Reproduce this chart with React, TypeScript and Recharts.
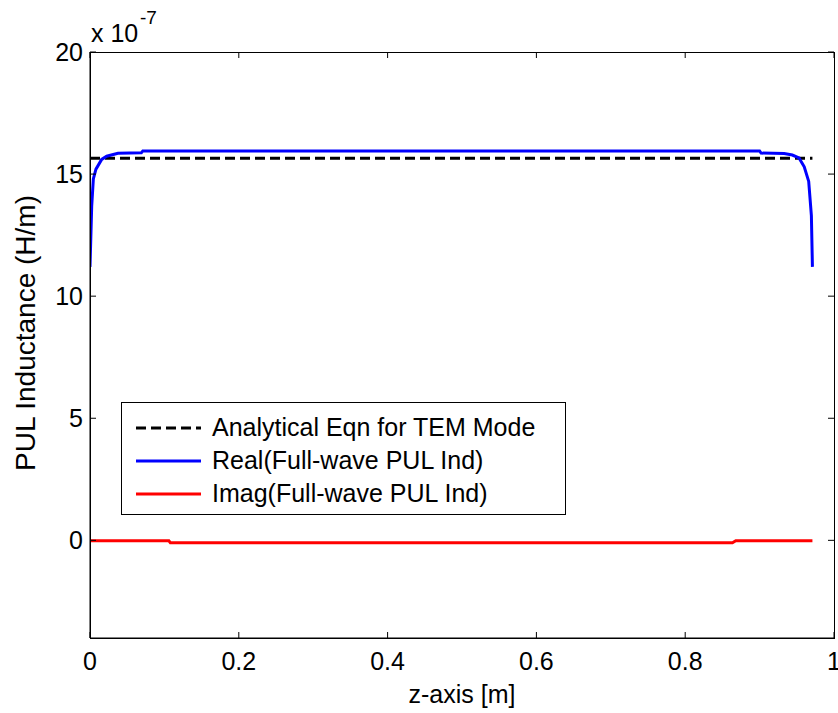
import React from "react";
import { LineChart, Line, XAxis, YAxis, Legend, Label } from "recharts";

// z positions [m] and PUL inductance values (x 1e-7 H/m)
const analyticZ = [0, 0.971];
const analyticL = [15.65, 15.65];

const realZ = [
  0, 0.0023, 0.0045, 0.008, 0.0157, 0.0224, 0.0376, 0.069, 0.071, 0.5, 0.9, 0.902,
  0.933, 0.944, 0.953, 0.96, 0.966, 0.9696, 0.971,
];
const realL = [
  11.2, 13.7, 14.8, 15.2, 15.6, 15.73, 15.85, 15.87, 15.95, 15.95, 15.95, 15.86,
  15.84, 15.78, 15.66, 15.3, 14.7, 13.3, 11.2,
];

const imagZ = [0, 0.106, 0.108, 0.5, 0.8635, 0.868, 0.971];
const imagL = [-0.02, -0.02, -0.1, -0.1, -0.1, -0.02, -0.02];

const xTicks = [0, 0.2, 0.4, 0.6, 0.8, 1];
const yTicks = [0, 5, 10, 15, 20];

const seriesNames = [
  "Analytical Eqn for TEM Mode",
  "Real(Full-wave PUL Ind)",
  "Imag(Full-wave PUL Ind)",
];

const toRows = (zs: number[], vs: number[]) => zs.map((z, i) => ({ z, v: vs[i] }));
const analyticData = toRows(analyticZ, analyticL);
const realData = toRows(realZ, realL);
const imagData = toRows(imagZ, imagL);

const FONT = "'Liberation Sans', Arial, Helvetica, sans-serif";

const W = 838;
const H = 713;
const MARGIN = { top: 52, right: 4, left: 0, bottom: 0 };
const Y_AXIS_W = 90;
const X_AXIS_H = 75;
const PLOT_W = W - MARGIN.left - MARGIN.right - Y_AXIS_W;
const PLOT_H = H - MARGIN.top - MARGIN.bottom - X_AXIS_H;
const TICK = 6;

// MATLAB style: ticks point inward, mirrored on the opposite side of the box
const LeftTick = (p: any) => (
  <g>
    <line x1={p.x} x2={p.x + TICK} y1={p.y} y2={p.y} stroke="#000" />
    <line x1={p.x + PLOT_W} x2={p.x + PLOT_W - TICK} y1={p.y} y2={p.y} stroke="#000" />
    <text x={p.x - 7} y={p.y} dy="0.36em" textAnchor="end" fontSize={25} fontFamily={FONT} fill="#000">
      {p.payload.value}
    </text>
  </g>
);
const BottomTick = (p: any) => (
  <g>
    <line x1={p.x} x2={p.x} y1={p.y} y2={p.y - TICK} stroke="#000" />
    <line x1={p.x} x2={p.x} y1={p.y - PLOT_H} y2={p.y - PLOT_H + TICK} stroke="#000" />
    <text x={p.x} y={p.y + 23} dy="0.36em" textAnchor="middle" fontSize={25} fontFamily={FONT} fill="#000">
      {p.payload.value}
    </text>
  </g>
);

const renderLegend = (props: any) => {
  const items = [...(props.payload || [])]
    .filter((e: any) => seriesNames.includes(e.value))
    .sort((a: any, b: any) => seriesNames.indexOf(a.value) - seriesNames.indexOf(b.value));
  return (
    <div
      style={{
        border: "1px solid #000",
        background: "#fff",
        boxSizing: "border-box",
        width: 445,
        height: 113,
        padding: "8px 0 0 13px",
        fontFamily: FONT,
        fontSize: 25,
        lineHeight: "33px",
      }}
    >
      {items.map((e: any) => (
        <div key={e.value} style={{ display: "flex", alignItems: "center", height: 33 }}>
          <svg width={77} height={10}>
            <line
              x1={1}
              x2={66}
              y1={5}
              y2={5}
              stroke={e.color}
              strokeWidth={3}
              strokeDasharray={e.payload && e.payload.strokeDasharray}
            />
          </svg>
          <span>{e.value}</span>
        </div>
      ))}
    </div>
  );
};

export default function App() {
  return (
    <div
      style={{
        position: "absolute",
        left: 0,
        top: 0,
        width: W,
        height: H,
        overflow: "hidden",
        background: "#fff",
      }}
    >
      <LineChart width={W} height={H} margin={MARGIN}>
        <XAxis
          xAxisId="b"
          type="number"
          dataKey="z"
          domain={[0, 1]}
          ticks={xTicks}
          interval={0}
          height={X_AXIS_H}
          tickSize={0}
          tickMargin={0}
          tickLine={false}
          tick={<BottomTick />}
          axisLine={{ stroke: "#000" }}
          allowDataOverflow
        >
          <Label
            content={(p: any) => (
              <text
                x={p.viewBox.x + p.viewBox.width / 2}
                y={p.viewBox.y + 56}
                dy="0.36em"
                textAnchor="middle"
                fontSize={25}
                fontFamily={FONT}
                fill="#000"
              >
                z-axis [m]
              </text>
            )}
          />
        </XAxis>
        <YAxis
          yAxisId="l"
          type="number"
          domain={[-4, 20]}
          ticks={yTicks}
          interval={0}
          width={Y_AXIS_W}
          tickSize={0}
          tickMargin={0}
          tickLine={false}
          tick={<LeftTick />}
          axisLine={{ stroke: "#000" }}
          allowDataOverflow
        >
          <Label
            content={(p: any) => {
              const vb = p.viewBox;
              const cy = vb.y + vb.height / 2 - 12;
              return (
                <g fontFamily={FONT} fill="#000">
                  <text
                    x={25}
                    y={cy}
                    transform={`rotate(-90 25 ${cy})`}
                    dy="0.36em"
                    textAnchor="middle"
                    fontSize={28}
                  >
                    PUL Inductance (H/m)
                  </text>
                  <text x={91} y={33} dy="0.36em" fontSize={25}>
                    x 10
                  </text>
                  <text x={140} y={17} dy="0.36em" fontSize={19}>
                    -7
                  </text>
                </g>
              );
            }}
          />
        </YAxis>
        <Legend
          layout="horizontal"
          verticalAlign="middle"
          align="center"
          content={renderLegend}
          wrapperStyle={{ left: 121, top: 402, width: 445, height: 113 }}
        />
        <Line
          xAxisId="b"
          yAxisId="l"
          data={analyticData}
          dataKey="v"
          name={seriesNames[0]}
          stroke="#000"
          strokeWidth={3}
          strokeDasharray="10 5"
          dot={false}
          activeDot={false}
          isAnimationActive={false}
        />
        <Line
          xAxisId="b"
          yAxisId="l"
          data={realData}
          dataKey="v"
          name={seriesNames[1]}
          stroke="#0000ff"
          strokeWidth={3}
          dot={false}
          activeDot={false}
          isAnimationActive={false}
        />
        <Line
          xAxisId="b"
          yAxisId="l"
          data={imagData}
          dataKey="v"
          name={seriesNames[2]}
          stroke="#ff0000"
          strokeWidth={3}
          dot={false}
          activeDot={false}
          isAnimationActive={false}
        />
      </LineChart>
      {/* box around the axes (top and right edges) */}
      <div
        style={{
          position: "absolute",
          left: MARGIN.left + Y_AXIS_W,
          top: MARGIN.top,
          width: PLOT_W + 1,
          height: PLOT_H + 1,
          boxSizing: "border-box",
          border: "1px solid #000",
          pointerEvents: "none",
        }}
      />
    </div>
  );
}
